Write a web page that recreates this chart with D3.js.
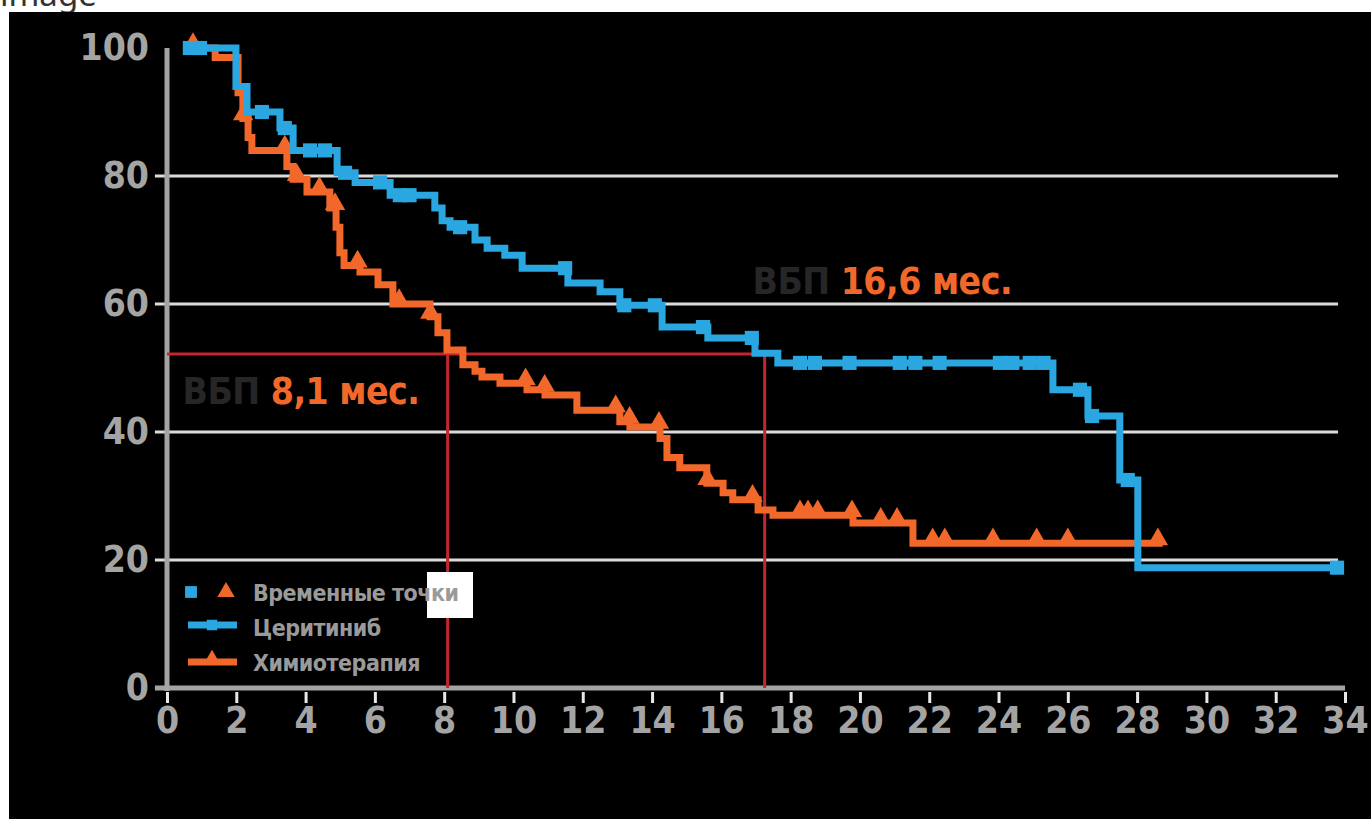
<!DOCTYPE html>
<html>
<head>
<meta charset="utf-8">
<script src="https://cdn.jsdelivr.net/npm/d3@7"></script>
<style>
  body { margin: 0; background: #fff; overflow: hidden; }
</style>
</head>
<body>
<script>
// Chart data.
// Kaplan-Meier steps: at time (months) the survival (%) drops to the value.
const ceritinibTimes = [0.58, 1.99, 2.31, 3.26, 3.64, 4.91, 5.43, 6.44, 7.73, 7.94, 8.17, 8.89, 9.24, 9.75, 10.25, 11.57, 12.5, 13.07, 14.29, 15.61, 16.97, 17.63, 25.57, 26.58, 27.5, 28.02, 33.77];
const ceritinibValues = [100, 94, 90, 87.5, 84, 80.5, 79, 77, 75, 73, 72, 70, 68.7, 67.6, 65.6, 63.3, 61.9, 59.8, 56.4, 54.7, 52.3, 50.8, 46.6, 42.5, 32.5, 18.8, 18.8];
const ceritinibCensored = [0.66, 0.95, 2.74, 3.4, 4.13, 4.56, 5.14, 6.15, 6.72, 7.0, 8.46, 11.49, 13.2, 14.08, 15.47, 16.88, 18.27, 18.7, 19.7, 21.15, 21.6, 22.3, 24.04, 24.4, 24.9, 25.3, 26.35, 26.7, 27.73, 33.77];

const chemoTimes = [0.58, 1.39, 2.05, 2.19, 2.34, 2.45, 3.46, 3.64, 4.04, 4.7, 4.88, 4.99, 5.11, 5.57, 6.09, 6.52, 7.59, 7.82, 8.08, 8.54, 8.89, 9.09, 9.61, 10.39, 10.91, 11.83, 13.07, 13.36, 14.23, 14.43, 14.8, 15.58, 16.05, 16.33, 17.06, 17.49, 19.8, 21.53, 28.74];
const chemoValues = [100, 98.5, 93, 89, 86, 84, 81.5, 79.5, 77.5, 75, 72, 68, 66, 65, 63, 60, 58, 55.5, 52.8, 50.5, 49.5, 48.6, 47.6, 46.6, 45.8, 43.4, 41.6, 40.8, 39, 36, 34.4, 32, 30.5, 29.4, 27.8, 27, 25.8, 22.6, 22.6];
const chemoCensored = [0.75, 2.2, 3.4, 3.75, 4.4, 4.85, 5.5, 6.7, 7.6, 10.35, 10.9, 12.95, 13.35, 14.2, 15.6, 16.9, 18.27, 18.5, 18.78, 19.77, 20.6, 21.07, 22.1, 22.45, 23.84, 25.1, 26.0, 28.6];

const xTicks = [0, 2, 4, 6, 8, 10, 12, 14, 16, 18, 20, 22, 24, 26, 28, 30, 32, 34];
const yTicks = [0, 20, 40, 60, 80, 100];
const gridValues = [20, 40, 60, 80];

// Median PFS reference lines
const medianLevel = 52.2;
const medianTimes = [8.1, 17.25];
const medianLabels = [
  { prefix: "ВБП", value: "8,1 мес.", t: 0.45, s: 44.3 },
  { prefix: "ВБП", value: "16,6 мес.", t: 16.9, s: 61.6 }
];

const legendItems = ["Временные точки", "Церитиниб", "Химиотерапия"];

const blue = "#2aa7e0";
const orange = "#f2682a";
const red = "#c4262e";
const grey = "#a4a4a4";
const font = "'Liberation Sans Narrow', 'DejaVu Sans Condensed', Arial, sans-serif";

const width = 1371;
const height = 819;

const x = d3.scaleLinear([0, 34], [167, 1345]);
const y = d3.scaleLinear([0, 100], [688, 48]);

const svg = d3
  .select("body")
  .append("svg")
  .attr("width", width)
  .attr("height", height)
  .attr("viewBox", [0, 0, width, height]);

// page caption cut off at the top, then the black picture
svg
  .append("text")
  .attr("x", 0)
  .attr("y", 6)
  .attr("font-family", "'Noto Sans', sans-serif")
  .attr("font-size", 33)
  .attr("fill", "#333")
  .text("image");

svg
  .append("rect")
  .attr("x", 9)
  .attr("y", 12)
  .attr("width", width - 9)
  .attr("height", height - 12)
  .attr("fill", "#000");

// Grid lines
svg
  .append("g")
  .selectAll("line")
  .data(gridValues)
  .join("line")
  .attr("x1", x(-0.35))
  .attr("x2", x(33.8))
  .attr("y1", (d) => y(d))
  .attr("y2", (d) => y(d))
  .attr("stroke", "#dcdcdc")
  .attr("stroke-width", 3);

// x axis
const xAxis = svg
  .append("g")
  .attr("transform", `translate(0,${y(0)})`)
  .call(d3.axisBottom(x).tickValues(xTicks).tickSize(15).tickPadding(4))
  .call((g) => g.select(".domain").remove());
xAxis.selectAll(".tick line").attr("stroke", "#e8e8e8").attr("stroke-width", 3).attr("y1", 4);
xAxis
  .selectAll(".tick text")
  .attr("fill", grey)
  .attr("font-family", font)
  .attr("font-weight", "bold")
  .attr("font-size", 37);
xAxis
  .append("line")
  .attr("x1", x(-0.35))
  .attr("x2", x(34))
  .attr("stroke", grey)
  .attr("stroke-width", 5);

// y axis
const yAxis = svg
  .append("g")
  .attr("transform", `translate(${x(0)},0)`)
  .call(d3.axisLeft(y).tickValues(yTicks).tickSize(0).tickPadding(18))
  .call((g) => g.select(".domain").remove());
yAxis
  .selectAll(".tick text")
  .attr("fill", grey)
  .attr("font-family", font)
  .attr("font-weight", "bold")
  .attr("font-size", 37);
yAxis
  .append("line")
  .attr("y1", y(100))
  .attr("y2", y(0) + 3)
  .attr("stroke", grey)
  .attr("stroke-width", 5);

// Median reference lines
const ref = svg.append("g").attr("stroke", red).attr("stroke-width", 3);
ref
  .append("line")
  .attr("x1", x(0))
  .attr("x2", x(d3.max(medianTimes)))
  .attr("y1", y(medianLevel))
  .attr("y2", y(medianLevel));
ref
  .selectAll(".v")
  .data(medianTimes)
  .join("line")
  .attr("x1", (d) => x(d))
  .attr("x2", (d) => x(d))
  .attr("y1", y(medianLevel))
  .attr("y2", y(0));

// Survival curves
const line = d3
  .line()
  .curve(d3.curveStepAfter)
  .x((d) => x(d[0]))
  .y((d) => y(d[1]));

const ceritinib = d3.zip(ceritinibTimes, ceritinibValues);
const chemo = d3.zip(chemoTimes, chemoValues);

// survival value at time t for a step series
const valueAt = (series, t) => {
  const i = d3.bisector((d) => d[0]).right(series, t) - 1;
  return series[Math.max(0, i)][1];
};

const square = d3.symbol(d3.symbolSquare, 200);
const triangle = d3.symbol(d3.symbolTriangle, 180);

svg
  .append("path")
  .attr("fill", "none")
  .attr("stroke", orange)
  .attr("stroke-width", 7)
  .attr("d", line(chemo));

svg
  .append("g")
  .selectAll("path")
  .data(chemoCensored)
  .join("path")
  .attr("transform", (d) => `translate(${x(d)},${y(valueAt(chemo, d)) - 4})`)
  .attr("d", triangle)
  .attr("fill", orange);

svg
  .append("path")
  .attr("fill", "none")
  .attr("stroke", blue)
  .attr("stroke-width", 7)
  .attr("d", line(ceritinib));

svg
  .append("g")
  .selectAll("path")
  .data(ceritinibCensored)
  .join("path")
  .attr("transform", (d) => `translate(${x(d)},${y(valueAt(ceritinib, d))})`)
  .attr("d", square)
  .attr("fill", blue);

// Median annotations
medianLabels.forEach((m) => {
  const t = svg
    .append("text")
    .attr("x", x(m.t))
    .attr("y", y(m.s))
    .attr("font-family", font)
    .attr("font-weight", "bold")
    .attr("font-size", 37)
    .attr("letter-spacing", -0.5);
  t.append("tspan").attr("fill", "#262626").text(m.prefix + " ");
  t.append("tspan").attr("fill", orange).text(m.value);
});

// Legend
const legend = svg.append("g").attr("transform", "translate(188,592)");
legend
  .append("path")
  .attr("transform", "translate(3,0)")
  .attr("d", d3.symbol(d3.symbolSquare, 140))
  .attr("fill", blue);
legend
  .append("path")
  .attr("transform", "translate(38,0)")
  .attr("d", d3.symbol(d3.symbolTriangle, 130))
  .attr("fill", orange);
[blue, orange].forEach((c, i) => {
  const gy = 33 + i * 37;
  legend
    .append("line")
    .attr("x1", 0)
    .attr("x2", 49)
    .attr("y1", gy)
    .attr("y2", gy)
    .attr("stroke", c)
    .attr("stroke-width", 7);
  legend
    .append("path")
    .attr("transform", `translate(24,${gy - (i ? 3 : 0)})`)
    .attr("d", d3.symbol(i ? d3.symbolTriangle : d3.symbolSquare, 110))
    .attr("fill", c);
});
// white patch that sits over the first legend entry
legend
  .append("rect")
  .attr("x", 239)
  .attr("y", -20)
  .attr("width", 46)
  .attr("height", 46)
  .attr("fill", "#fff");
legend
  .selectAll("text")
  .data(legendItems)
  .join("text")
  .attr("x", 65)
  .attr("y", (d, i) => i * 35 + 9)
  .attr("font-family", font)
  .attr("font-weight", "bold")
  .attr("font-size", 23)
  .attr("letter-spacing", -0.5)
  .attr("fill", "#9a9a9a")
  .text((d) => d);
</script>
</body>
</html>
